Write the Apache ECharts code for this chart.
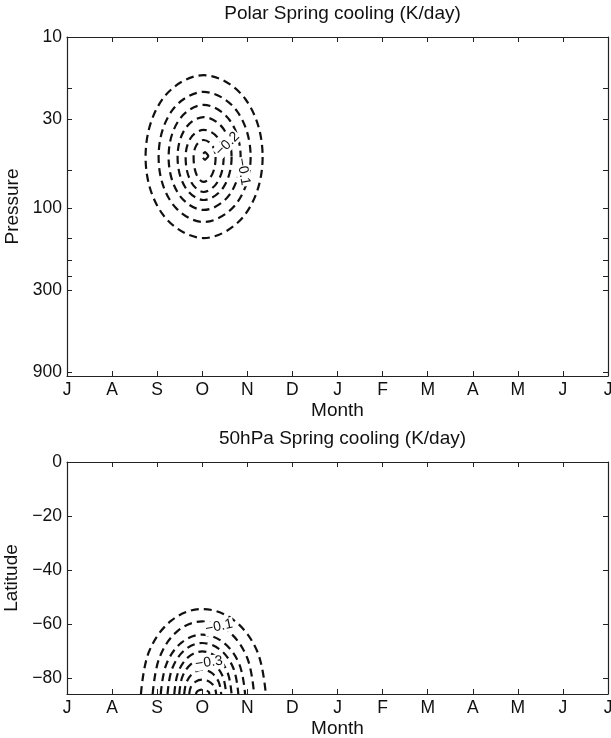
<!DOCTYPE html>
<html><head><meta charset="utf-8">
<script src="https://cdn.jsdelivr.net/npm/echarts@6/dist/echarts.min.js"></script>
<style>html,body{margin:0;padding:0;background:#fff}#c{width:611px;height:738px}</style>
</head><body><div id="c"></div>
<script>
// ---- data ----
const monthLabels = ['J','A','S','O','N','D','J','F','M','A','M','J','J'];
const pressureTicks = [10, 30, 100, 300, 900];
const pressureMinorTicks = [20, 60, 150, 200, 250];
const pressureRange = [10, 950];
const latitudeTicks = [0, -20, -40, -60, -80];
const latitudeRange = [-86, 0];

// Polar Spring cooling contours: [month index (0 = July), pressure hPa]
const polarRing1 = [[4.339,50.1],[3.955,108.1],[3.03,148.9],[2.12,108.1],[1.743,50.1],[2.12,23.0],[3.03,16.7],[3.955,23.0]];
const polarRing2 = [[4.073,50.1],[3.767,92.9],[3.03,120.0],[2.324,92.9],[2.032,50.1],[2.324,27.0],[3.03,20.9],[3.767,27.0]];
const polarRing3 = [[3.851,50.1],[3.61,82.8],[3.03,102.1],[2.481,82.8],[2.254,50.1],[2.481,30.6],[3.03,24.9],[3.61,30.6]];
const polarRing4 = [[3.651,50.1],[3.469,75.3],[3.03,89.3],[2.622,75.3],[2.453,50.1],[2.622,34.3],[3.03,29.3],[3.469,34.3]];
const polarRing5 = [[3.474,50.1],[3.344,69.8],[3.03,80.2],[2.748,69.8],[2.631,50.1],[2.748,38.7],[3.03,34.8],[3.344,38.7]];
const polarRing6 = [[3.296,50.1],[3.218,63.5],[3.03,70.1],[2.873,63.5],[2.808,50.1],[2.873,42.7],[3.03,39.9],[3.218,42.7]];
const polarRing7 = [[3.134,49.4],[3.061,52.1],[2.988,49.4],[3.061,46.9]];
const polarLabelText = ['\u22120.2', '\u22120.1'];
const polarLabelPos = [[3.56, 42.1], [3.91, 61.1]];
const polarLabelAngle = [45, -80];

// 50hPa Spring cooling contours: [month index, latitude]
const latArc1 = [[1.64,-86],[1.82,-70.25],[2.32,-58.72],[3.0,-54.5],[3.705,-58.72],[4.221,-70.25],[4.41,-86]];
const latArc2 = [[1.90,-86],[2.05,-72.55],[2.45,-62.7],[3.0,-59.1],[3.575,-62.7],[3.996,-72.55],[4.15,-86]];
const latArc3 = [[2.08,-86],[2.203,-75],[2.54,-66.95],[3.0,-64],[3.475,-66.95],[3.823,-75],[3.95,-86]];
const latArc4 = [[2.23,-86],[2.333,-76.55],[2.615,-69.63],[3.0,-67.1],[3.4,-69.63],[3.693,-76.55],[3.8,-86]];
const latArc5 = [[2.38,-86],[2.463,-78.1],[2.69,-72.32],[3.0,-70.2],[3.325,-72.32],[3.563,-78.1],[3.65,-86]];
const latArc6 = [[2.49,-86],[2.558,-79.65],[2.745,-75],[3.0,-73.3],[3.265,-75],[3.459,-79.65],[3.53,-86]];
const latArc7 = [[2.6,-86],[2.654,-81.5],[2.8,-78.21],[3.0,-77],[3.21,-78.21],[3.364,-81.5],[3.42,-86]];
const latArc8 = [[2.71,-86],[2.749,-83.35],[2.855,-81.41],[3.0,-80.7],[3.155,-81.41],[3.268,-83.35],[3.31,-86]];
const latArc9 = [[2.86,-86],[2.88,-85.2],[2.93,-84.6],[3.0,-84.4],[3.08,-84.6],[3.14,-85.2],[3.16,-86]];
const latLabelText = ['\u22120.1', '\u22120.3'];
const latLabelPos = [[3.37, -61.0], [3.15, -74.3]];
const latLabelAngle = [12, 8];

// ---- chart ----
const FONT = '"Liberation Sans", Arial, Helvetica, sans-serif';
const FS = 17.5;   // tick labels
const FS2 = 19;    // titles and axis names
const polarRings = [polarRing1, polarRing2, polarRing3, polarRing4, polarRing5, polarRing6, polarRing7];
const latArcs = [latArc1, latArc2, latArc3, latArc4, latArc5, latArc6, latArc7, latArc8, latArc9];
const lg = v => Math.log10(v);
const idY = v => v;
const minus = s => String(s).replace('-', '\u2212');

function contourSeries(lines, xi, yi, toY, closed) {
  return {
    type: 'custom', xAxisIndex: xi, yAxisIndex: yi, silent: true, z: 3,
    data: lines.map((l, i) => [l[0][0], toY(l[0][1]), i]),
    encode: { x: 0, y: 1 },
    renderItem: (params, api) => {
      const line = lines[api.value(2)];
      const pts = line.map(p => api.coord([p[0], toY(p[1])]));
      return {
        type: closed ? 'polygon' : 'polyline',
        shape: { points: pts, smooth: closed && line.length < 5 ? 0.15 : 0.36 },
        style: { fill: 'none', stroke: '#111', lineWidth: 2.2, lineDash: [8, 5] }
      };
    }
  };
}
function labelSeries(pos, texts, angles, xi, yi, toY) {
  return {
    type: 'custom', xAxisIndex: xi, yAxisIndex: yi, silent: true, z: 5,
    data: pos.map((p, i) => [p[0], toY(p[1]), i]),
    encode: { x: 0, y: 1 },
    renderItem: (params, api) => {
      const i = api.value(2);
      const c = api.coord([api.value(0), api.value(1)]);
      return {
        type: 'text', x: c[0], y: c[1], rotation: angles[i] * Math.PI / 180,
        style: { text: texts[i], align: 'center', verticalAlign: 'middle',
          fontSize: 14, fontFamily: FONT, fill: '#111', backgroundColor: '#fff', padding: [0, 1] }
      };
    }
  };
}

const axisLine = { show: true, onZero: false, lineStyle: { color: '#222', width: 1.2 } };
const tick = { show: true, inside: true, length: 5, lineStyle: { color: '#222', width: 1 } };
function monthAxis(gi, pos) {
  const main = pos === 'bottom';
  return {
    type: 'value', gridIndex: gi, position: pos, min: 0, max: 12, interval: 1,
    axisLine, axisTick: tick, splitLine: { show: false },
    axisLabel: { show: main, margin: 5, color: '#111', fontSize: FS, fontFamily: FONT,
      formatter: v => monthLabels[Math.round(v)] },
    name: main ? 'Month' : '', nameLocation: 'middle', nameGap: 25,
    nameTextStyle: { color: '#111', fontSize: FS2, fontFamily: FONT }
  };
}

const option = {
  animation: false,
  backgroundColor: '#fff',
  title: [
    { text: 'Polar Spring cooling (K/day)', left: 337.5, top: -1, textAlign: 'center',
      textStyle: { color: '#111', fontSize: FS2, fontWeight: 'normal', fontFamily: FONT } },
    { text: '50hPa Spring cooling (K/day)', left: 337.5, top: 424, textAlign: 'center',
      textStyle: { color: '#111', fontSize: FS2, fontWeight: 'normal', fontFamily: FONT } }
  ],
  grid: [
    { left: 67, right: 3, top: 37, height: 339, containLabel: false, outerBoundsMode: 'none' },
    { left: 67, right: 3, top: 462, height: 232, containLabel: false, outerBoundsMode: 'none' }
  ],
  xAxis: [monthAxis(0, 'bottom'), monthAxis(0, 'top'), monthAxis(1, 'bottom'), monthAxis(1, 'top')],
  yAxis: [
    { type: 'value', gridIndex: 0, position: 'left', inverse: true,
      min: lg(pressureRange[0]), max: lg(pressureRange[1]),
      axisLine, splitLine: { show: false },
      axisTick: Object.assign({}, tick, { customValues: pressureTicks.concat(pressureMinorTicks).map(lg) }),
      axisLabel: { customValues: pressureTicks.map(lg), margin: 5, color: '#111', fontSize: FS, fontFamily: FONT,
        formatter: v => String(Math.round(Math.pow(10, v))) },
      name: 'Pressure', nameLocation: 'middle', nameGap: 37,
      nameTextStyle: { color: '#111', fontSize: FS2, fontFamily: FONT } },
    { type: 'value', gridIndex: 0, position: 'right', inverse: true,
      min: lg(pressureRange[0]), max: lg(pressureRange[1]),
      axisLine, splitLine: { show: false },
      axisTick: Object.assign({}, tick, { customValues: pressureTicks.concat(pressureMinorTicks).map(lg) }),
      axisLabel: { show: false } },
    { type: 'value', gridIndex: 1, position: 'left', min: latitudeRange[0], max: latitudeRange[1],
      axisLine, splitLine: { show: false },
      axisTick: Object.assign({}, tick, { customValues: latitudeTicks }),
      axisLabel: { customValues: latitudeTicks, margin: 5, color: '#111', fontSize: FS, fontFamily: FONT,
        formatter: v => minus(v) },
      name: 'Latitude', nameLocation: 'middle', nameGap: 37,
      nameTextStyle: { color: '#111', fontSize: FS2, fontFamily: FONT } },
    { type: 'value', gridIndex: 1, position: 'right', min: latitudeRange[0], max: latitudeRange[1],
      axisLine, splitLine: { show: false },
      axisTick: Object.assign({}, tick, { customValues: latitudeTicks }),
      axisLabel: { show: false } }
  ],
  series: [
    contourSeries(polarRings, 0, 0, lg, true),
    labelSeries(polarLabelPos, polarLabelText, polarLabelAngle, 0, 0, lg),
    contourSeries(latArcs, 2, 2, idY, false),
    labelSeries(latLabelPos, latLabelText, latLabelAngle, 2, 2, idY)
  ]
};
const chart = echarts.init(document.getElementById('c'), null, { renderer: 'canvas' });
chart.setOption(option);
</script>
</body></html>
